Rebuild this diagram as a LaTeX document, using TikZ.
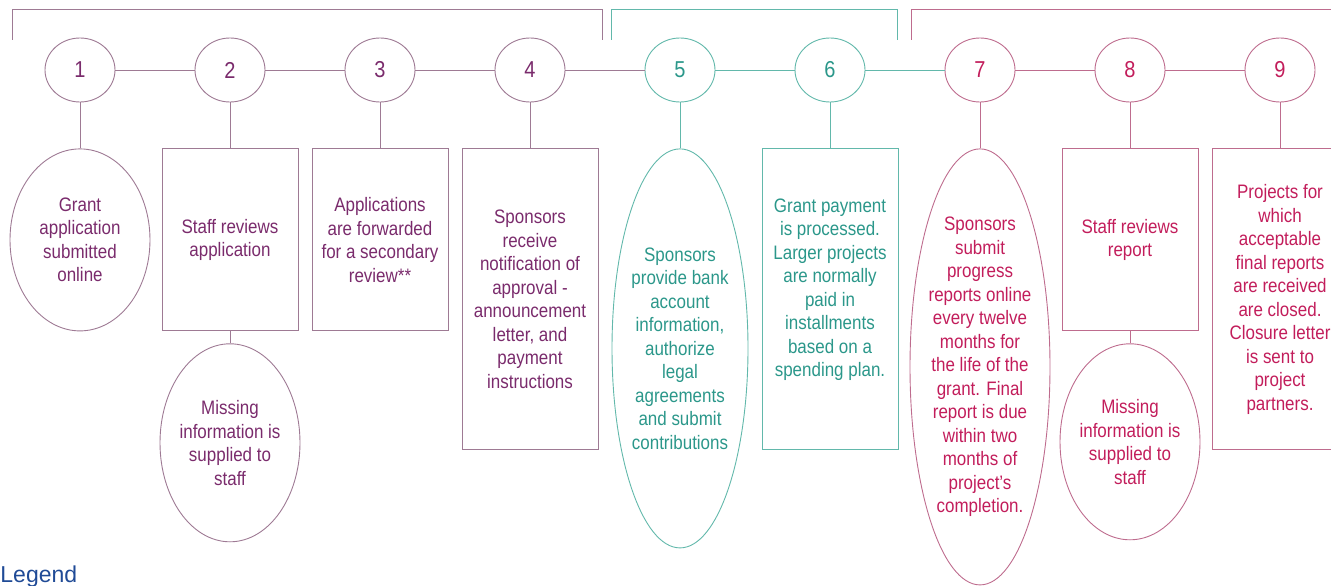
\documentclass[tikz,border=0pt]{standalone}
\usepackage{fontspec}
\setmainfont{Liberation Sans}[FakeStretch=0.87]
\newfontfamily\legendfont{Liberation Sans}
\usetikzlibrary{
        positioning,
        shapes.geometric
    }
\definecolor{plumtext}{HTML}{7A2B6C}
\definecolor{plumline}{HTML}{9E7A94}
\definecolor{tealtext}{HTML}{2B978A}
\definecolor{tealline}{HTML}{62B8AB}
\definecolor{rosetext}{HTML}{C21D5B}
\definecolor{roseline}{HTML}{BE6C8E}
\definecolor{legendblue}{HTML}{1F4A96}
\tikzset{phaseone/.style={color=plumline,text=plumtext}}
\tikzset{phasetwo/.style={color=tealline,text=tealtext}}
\tikzset{phasethree/.style={color=roseline,text=rosetext}}
\tikzset{stage/.style={ellipse,draw,minimum width=70pt,minimum height=64pt,inner sep=0pt,font=\fontsize{23}{27}\selectfont}}
\tikzset{task/.style={rectangle,draw,minimum width=136pt,align=center,font=\fontsize{19.5}{23.5}\selectfont}}
\tikzset{oval/.style={ellipse,draw,minimum width=140pt,inner sep=0pt}}
\tikzset{txt/.style={align=center,font=\fontsize{19.5}{23.5}\selectfont}}

\begin{document}
\begin{tikzpicture}[x=1pt,y=-1pt,node distance=150pt,line width=0.9pt]
    \useasboundingbox (0,0) rectangle (1331,586);
    % phase brackets
    \draw[phaseone] (12,40) -- (12,9) -- (602,9) -- (602,40);
    \draw[phasetwo] (611,40) -- (611,9) -- (897,9) -- (897,40);
    \draw[phasethree] (911,40) -- (911,9) -- (1340,9);

    % numbered stages
    \node[stage,phaseone] (c1) at (80,70) {1};
    \node[stage,phaseone] (c2) [right of=c1] {2};
    \node[stage,phaseone] (c3) [right of=c2] {3};
    \node[stage,phaseone] (c4) [right of=c3] {4};
    \node[stage,phasetwo] (c5) [right of=c4] {5};
    \node[stage,phasetwo] (c6) [right of=c5] {6};
    \node[stage,phasethree] (c7) [right of=c6] {7};
    \node[stage,phasethree] (c8) [right of=c7] {8};
    \node[stage,phasethree] (c9) [right of=c8] {9};

    % what happens at each stage
    \node[oval,phaseone,minimum height=182pt] (e1) [below=46pt of c1] {};
    \node[txt,phaseone] (t1) at (e1) {Grant\\application\\submitted\\online};
    \node[task,phaseone,minimum height=182pt] (b2) [below=46pt of c2] {Staff reviews\\application};
    \node[oval,phaseone,minimum height=198pt] (e2) [below=12pt of b2] {};
    \node[txt,phaseone] (t2) at (e2) {Missing\\information is\\supplied to\\staff};
    \node[task,phaseone,minimum height=182pt] (b3) [below=46pt of c3] {Applications\\are forwarded\\for a secondary\\review**};
    \node[task,phaseone,minimum height=301pt] (b4) [below=46pt of c4] {Sponsors\\receive\\notification of\\approval -\\announcement\\letter, and\\payment\\instructions};
    \node[oval,phasetwo,minimum width=136pt,minimum height=399pt] (e5) [below=46pt of c5] {};
    \node[txt,phasetwo] (t5) at (e5) {Sponsors\\provide bank\\account\\information,\\authorize\\legal\\agreements\\and submit\\contributions};
    \node[task,phasetwo,minimum height=301pt] (b6) [below=46pt of c6] {Grant payment\\is processed.\\Larger projects\\are normally\\paid in\\installments\\based on a\\spending plan.\\\mbox{}};
    \node[oval,phasethree,minimum height=436pt] (e7) [below=46pt of c7] {};
    \node[txt,phasethree] (t7) at (e7) {Sponsors\\submit\\progress\\reports online\\every twelve\\months for\\the life of the\\grant. Final\\report is due\\within two\\months of\\project's\\completion.};
    \node[task,phasethree,minimum height=182pt] (b8) [below=46pt of c8] {Staff reviews\\report};
    \node[oval,phasethree,minimum height=196pt] (e8) [below=12pt of b8] {};
    \node[txt,phasethree] (t8) at (e8) {Missing\\information is\\supplied to\\staff};
    \node[task,phasethree,minimum height=301pt] (b9) [below=46pt of c9] {Projects for\\which\\acceptable\\final reports\\are received\\are closed.\\Closure letter\\is sent to\\project\\partners.};

    \node[anchor=base west,inner sep=0pt,text=legendblue,font=\legendfont\fontsize{23}{27}\selectfont] (legend) at (0,582) {Legend};

    % timeline and stems
    \draw[phaseone] (c1) -- (c2) (c2) -- (c3) (c3) -- (c4) (c4) -- (c5);
    \draw[phasetwo] (c5) -- (c6) (c6) -- (c7);
    \draw[phasethree] (c7) -- (c8) (c8) -- (c9);
    \draw[phaseone] (c1) -- (e1) (c2) -- (b2) (b2) -- (e2) (c3) -- (b3) (c4) -- (b4);
    \draw[phasetwo] (c5) -- (e5) (c6) -- (b6);
    \draw[phasethree] (c7) -- (e7) (c8) -- (b8) (b8) -- (e8) (c9) -- (b9);
\end{tikzpicture}
\end{document}
